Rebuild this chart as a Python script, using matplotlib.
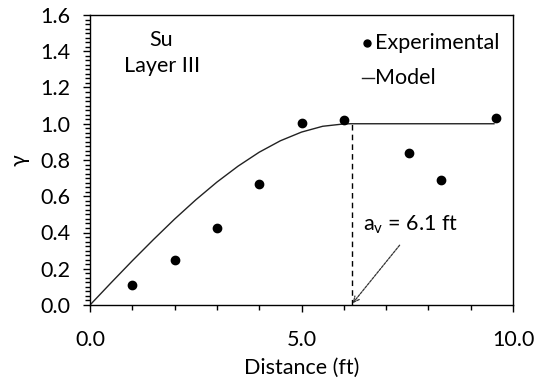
# Semivariogram of Su in Layer III: experimental points and fitted model

import numpy as np
import matplotlib.pyplot as plt
from matplotlib.ticker import MultipleLocator, FixedLocator

plt.rcParams['font.family'] = ['Lato', 'DejaVu Sans']

# experimental semivariogram
exp_dist = [1.0, 2.0, 3.0, 4.0, 5.0, 6.0, 7.55, 8.3, 9.6]
exp_gamma = [0.11, 0.25, 0.425, 0.665, 1.005, 1.02, 0.84, 0.687, 1.03]

# model curve
model_dist = [0.0, 0.5, 1.0, 1.5, 2.0, 2.5, 3.0, 3.5, 4.0, 4.5, 5.0, 5.5, 6.0, 6.15, 9.55]
model_gamma = [0.0, 0.123, 0.244, 0.361, 0.474, 0.58, 0.678, 0.766, 0.843, 0.906,
               0.954, 0.986, 0.999, 1.0, 1.0]

range_x = 6.2
range_label = r'a$_\mathregular{v}$ = 6.1 ft'

fs = 15.5

fig = plt.figure(figsize=(5.36, 3.81), dpi=100)
ax = fig.add_axes([90/536, 1 - 305/381, 423/536, 290/381])

ax.plot(model_dist, model_gamma, color='#222222', lw=1.0)
ax.plot(exp_dist, exp_gamma, 'o', color='black', ms=6, mec='black')

# range marker
ax.plot([range_x, range_x], [0, 1.0], color='black', lw=1.0, ls=(0, (4, 3)))
ax.annotate('', xy=(6.21, 0.01), xytext=(7.32, 0.33),
            arrowprops=dict(arrowstyle='->', color='#333333', lw=0.9,
                            linestyle=(0, (2, 1)), shrinkA=0, shrinkB=0))
ax.text(6.45, 0.445, range_label, fontsize=fs, va='center', ha='left')

ax.text(1.68, 1.463, 'Su', fontsize=fs, ha='center', va='center')
ax.text(1.71, 1.316, 'Layer III', fontsize=fs, ha='center', va='center')

# hand-placed legend
ax.plot([6.56], [1.444], 'o', color='black', ms=5)
ax.text(6.74, 1.444, 'Experimental', fontsize=fs, va='center', ha='left')
ax.plot([6.42, 6.72], [1.252, 1.252], color='#222222', lw=1.0)
ax.text(6.74, 1.252, 'Model', fontsize=fs, va='center', ha='left')

ax.set_xlim(0, 10)
ax.set_ylim(0, 1.6)
ax.xaxis.set_major_locator(FixedLocator([0, 5, 10]))
ax.xaxis.set_minor_locator(MultipleLocator(1))
ax.yaxis.set_major_locator(MultipleLocator(0.2))
ax.yaxis.set_minor_locator(MultipleLocator(0.025))
ax.xaxis.set_major_formatter(lambda v, p: f'{v:.1f}')
ax.yaxis.set_major_formatter(lambda v, p: f'{v:.1f}')

ax.tick_params(axis='x', which='major', direction='out', length=5, width=1, pad=13, labelsize=fs)
ax.tick_params(axis='x', which='minor', direction='out', length=3.5, width=1)
ax.tick_params(axis='y', which='major', direction='out', length=5, width=1, pad=9, labelsize=fs)
ax.tick_params(axis='y', which='minor', direction='out', length=3.5, width=1)

for s in ax.spines.values():
    s.set_linewidth(1.0)
    s.set_color('black')

ax.set_xlabel('Distance (ft)', fontsize=fs, labelpad=6)
ax.set_ylabel('γ', fontsize=fs, labelpad=8)

plt.savefig('out.png', dpi=100)
